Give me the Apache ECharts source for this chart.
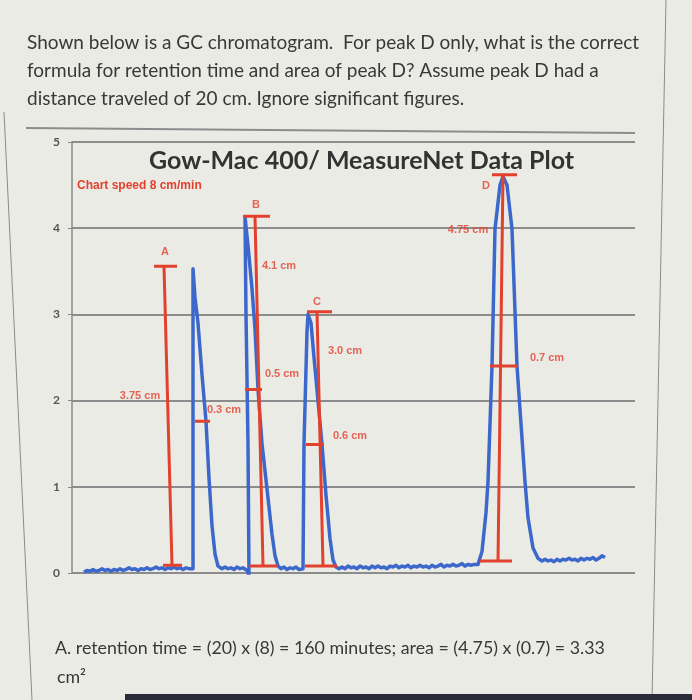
<!DOCTYPE html>
<html><head><meta charset="utf-8">
<script src="https://cdn.jsdelivr.net/npm/echarts@6/dist/echarts.min.js"></script>
<style>html,body{margin:0;padding:0;background:#ebebe6;}#c{width:692px;height:700px;}</style>
</head><body><div id="c"></div>
<script>
// ---- text ----
const questionLines = [
  'Shown below is a GC chromatogram.  For peak D only, what is the correct',
  'formula for retention time and area of peak D? Assume peak D had a',
  'distance traveled of 20 cm. Ignore significant figures.'
];
const answerLines = [
  'A. retention time = (20) x (8) = 160 minutes; area = (4.75) x (0.7) = 3.33',
  'cm\u00B2'
];
const chartTitle = 'Gow-Mac 400/ MeasureNet Data Plot';
const chartNote = 'Chart speed 8 cm/min';

// ---- axis ----
const yTicks = [0, 1, 2, 3, 4, 5];
const xRange = [0, 563];

// ---- detector signal (blue trace), [position, signal] ----
const signal = [
  [12,0.01],[15,0.03],[18,0.02],[21,0.04],[24,0.02],[27,0.03],[30,0.05],[33,0.03],[36,0.04],[39,0.02],
  [42,0.04],[45,0.03],[48,0.05],[51,0.03],[54,0.04],[57,0.06],[60,0.04],[63,0.05],[66,0.03],[69,0.05],
  [72,0.04],[75,0.06],[78,0.04],[81,0.05],[84,0.07],[87,0.05],[90,0.06],[93,0.04],[96,0.06],[99,0.05],
  [102,0.07],[105,0.05],[108,0.06],[111,0.04],[114,0.06],[117,0.05],
  // peak A
  [121,0.05],[121,1.8],[121,3.53],[123,3.2],[126,2.9],[130,2.3],[134,1.76],[137,1.1],[140,0.55],[143,0.22],[146,0.08],
  [150,0.05],[153,0.07],[156,0.05],[159,0.06],[162,0.04],[165,0.07],[168,0.05],[171,0.06],
  // peak B
  [175,0.03],[177,-0.03],[176,1.5],[174,3.0],[173,4.13],[176,3.8],[180,3.3],[183,2.83],[186,2.13],[190,1.5],[196,0.87],[200,0.45],[203,0.2],[206,0.08],
  [209,0.05],[212,0.07],[215,0.04],[218,0.06],[221,0.05],[224,0.07],[227,0.04],[229,0.05],
  // peak C
  [231,0.05],[232,1.5],[235,2.8],[236,3.0],[239,2.9],[242,2.5],[246,2.0],[250,1.49],[254,0.9],[258,0.4],[261,0.15],[264,0.07],
  [267,0.05],[270,0.07],[273,0.05],[276,0.08],[279,0.06],[282,0.07],[285,0.05],[288,0.08],[291,0.06],[294,0.07],
  [297,0.05],[300,0.08],[303,0.06],[306,0.08],[309,0.06],[312,0.07],[315,0.05],[318,0.08],[321,0.07],[324,0.09],
  [327,0.06],[330,0.08],[333,0.07],[336,0.09],[339,0.06],[342,0.08],[345,0.07],[348,0.09],[351,0.07],[354,0.08],
  [357,0.06],[360,0.09],[363,0.07],[366,0.08],[369,0.1],[372,0.07],[375,0.09],[378,0.08],[381,0.1],[384,0.08],
  [387,0.09],[390,0.11],[393,0.08],[396,0.1],[399,0.09],[402,0.1],
  // peak D
  [406,0.1],[410,0.25],[414,0.7],[416,1.06],[420,2.4],[423,3.99],[428,4.5],[431,4.6],[435,4.5],[440,3.99],
  [445,2.4],[453,1.06],[456,0.64],[461,0.29],[466,0.17],[470,0.14],
  [473,0.16],[476,0.14],[479,0.15],[482,0.13],[485,0.16],[488,0.14],[491,0.16],[494,0.15],[497,0.17],[500,0.15],
  [503,0.16],[506,0.14],[509,0.17],[512,0.15],[515,0.17],[518,0.16],[521,0.18],[524,0.15],[527,0.17],[530,0.2],[533,0.18]
];

// ---- hand-drawn measurement segments (red), [[x1,y1],[x2,y2]] ----
const redSegments = [
  [[82,3.56],[105,3.56]], [[92,3.56],[100,0.09]], [[91,0.09],[110,0.09]], [[123,1.76],[138,1.76]],
  [[171,4.14],[198,4.14]], [[183,4.14],[191,0.08]], [[177,0.08],[206,0.08]], [[173,2.13],[190,2.13]],
  [[235,3.03],[260,3.03]], [[245,3.03],[251,0.08]], [[233,0.08],[265,0.08]], [[234,1.49],[252,1.49]],
  [[420,4.62],[445,4.62]], [[431,4.62],[426,0.14]], [[408,0.14],[440,0.14]], [[418,2.4],[446,2.4]]
];

// ---- red annotation labels, [text, x, y] (centre) ----
const redLabels = [
  ['A', 93, 3.72], ['B', 184, 4.27], ['C', 245, 3.15], ['D', 414, 4.49],
  ['3.75 cm', 68, 2.05], ['0.3 cm', 152, 1.89], ['4.1 cm', 207, 3.56], ['0.5 cm', 210, 2.31],
  ['3.0 cm', 273, 2.58], ['0.6 cm', 278, 1.59], ['4.75 cm', 396, 3.98], ['0.7 cm', 475, 2.49]
];

const RED = '#e2412e';
const BLUE = '#3c68cc';

const chart = echarts.init(document.getElementById('c'), null, {renderer: 'canvas'});

const series = [{
  type: 'line', data: signal, symbol: 'none', silent: true, z: 2,
  lineStyle: {color: BLUE, width: 3.5, join: 'round'}
}];
redSegments.forEach(seg => series.push({
  type: 'line', data: seg, symbol: 'none', silent: true, z: 3,
  lineStyle: {color: RED, width: 3}
}));
series.push({
  type: 'scatter', symbolSize: 0, silent: true, z: 4,
  data: redLabels.map(l => ({name: l[0], value: [l[1], l[2]]})),
  label: {show: true, position: 'inside', formatter: p => p.name,
    color: RED, fontWeight: 'bold', fontSize: 11, fontFamily: 'Liberation Sans, Arial, sans-serif'}
});

const graphics = [];
questionLines.forEach((t, i) => graphics.push({
  type: 'text', x: 27, y: 43 + i * 28, silent: true,
  style: {text: t, fill: '#383838', font: '19px Lato', verticalAlign: 'middle'}
}));
answerLines.forEach((t, i) => graphics.push({
  type: 'text', x: 55 + i * 2, y: 648 + i * 29, silent: true,
  style: {text: t, fill: '#383838', font: '17.8px Lato', verticalAlign: 'middle'}
}));
graphics.push(
  {type: 'line', silent: true, shape: {x1: 26, y1: 128, x2: 635, y2: 133}, style: {stroke: '#8c8c8c', lineWidth: 2}},
  {type: 'line', silent: true, shape: {x1: 4, y1: 112, x2: 32, y2: 700}, style: {stroke: '#8a8a8a', lineWidth: 1}},
  {type: 'line', silent: true, shape: {x1: 666, y1: 0, x2: 652, y2: 700}, style: {stroke: '#8a8a8a', lineWidth: 1}},
  {type: 'rect', silent: true, shape: {x: 125, y: 694, width: 567, height: 6}, style: {fill: '#2a2c38'}}
);

chart.setOption({
  animation: false,
  backgroundColor: '#ebebe6',
  title: [
    {text: chartTitle, left: 149, top: 148, padding: 0,
     textStyle: {fontFamily: 'Lato', fontWeight: 'bold', fontSize: 25, color: '#333'}},
    {text: chartNote, left: 77, top: 180, padding: 0,
     textStyle: {fontFamily: 'Liberation Sans, Arial', fontWeight: 'bold', fontSize: 12, color: RED}}
  ],
  grid: {left: 72, right: 57, top: 142, bottom: 127, containLabel: false},
  xAxis: {type: 'value', min: xRange[0], max: xRange[1], show: false},
  yAxis: {
    type: 'value', min: yTicks[0], max: yTicks[yTicks.length - 1], interval: 1,
    axisLine: {show: true, lineStyle: {color: '#8a8a8a', width: 1.5}},
    axisTick: {show: true, length: 4, lineStyle: {color: '#8a8a8a'}},
    axisLabel: {margin: 12, color: '#555', fontWeight: 'bold', fontSize: 12, fontFamily: 'Lato',
      formatter: v => yTicks.includes(v) ? String(v) : ''},
    splitLine: {show: true, lineStyle: {color: '#8c8c8c', width: 2}}
  },
  series: series,
  graphic: graphics
});
</script></body></html>
